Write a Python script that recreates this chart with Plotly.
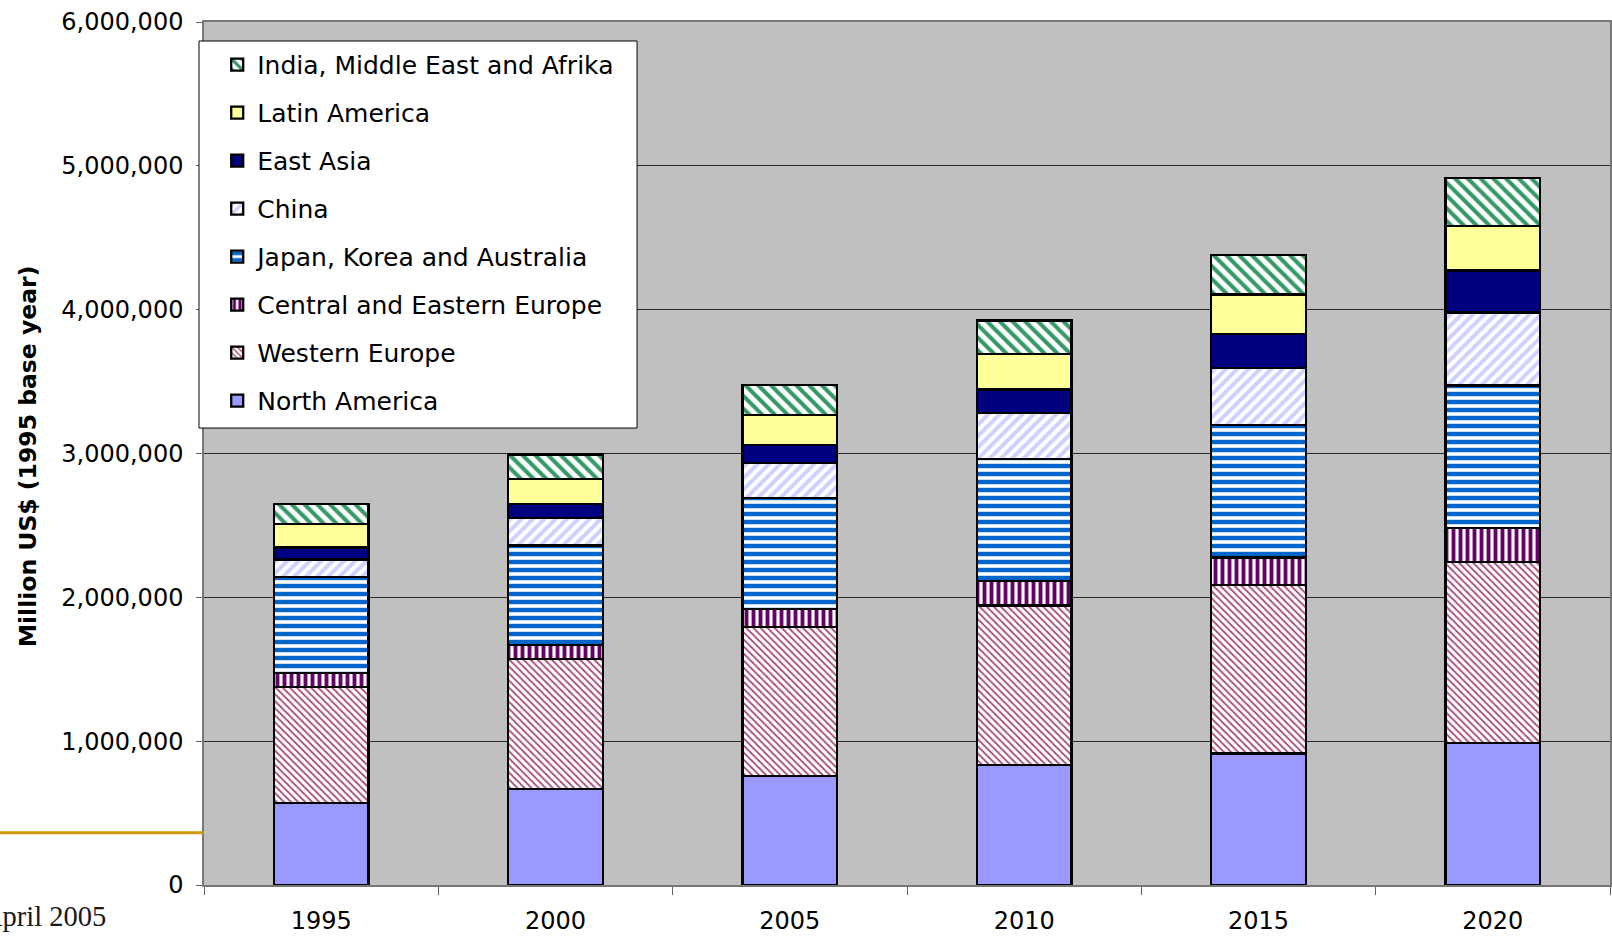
import plotly.graph_objects as go

years = ["1995", "2000", "2005", "2010", "2015", "2020"]

north_america = [572000, 669000, 756000, 832000, 915000, 989000]
western_europe = [806000, 904000, 1039000, 1112000, 1170000, 1258000]
central_eastern_europe = [97000, 95000, 125000, 171000, 192000, 234000]
japan_korea_australia = [665000, 693000, 771000, 848000, 920000, 992000]
china = [123000, 189000, 244000, 317000, 398000, 507000]
east_asia = [84000, 98000, 125000, 165000, 234000, 292000]
latin_america = [165000, 175000, 206000, 245000, 276000, 312000]
india_me_afrika = [139000, 170000, 209000, 234000, 273000, 331000]

series = [
    ("North America", north_america, dict(color="#9999FF")),
    ("Western Europe", western_europe,
     dict(color="white", pattern=dict(shape="\\", fgcolor="#A84A78", fgopacity=1, bgcolor="white", size=5, solidity=0.35))),
    ("Central and Eastern Europe", central_eastern_europe,
     dict(color="white", pattern=dict(shape="|", fgcolor="#660066", fgopacity=1, bgcolor="white", size=7, solidity=0.55))),
    ("Japan, Korea and Australia", japan_korea_australia,
     dict(color="white", pattern=dict(shape="-", fgcolor="#0066CC", fgopacity=1, bgcolor="white", size=8, solidity=0.55))),
    ("China", china,
     dict(color="white", pattern=dict(shape="/", fgcolor="#D0D0FF", fgopacity=1, bgcolor="white", size=8, solidity=0.5))),
    ("East Asia", east_asia, dict(color="#000080")),
    ("Latin America", latin_america, dict(color="#FFFF99")),
    ("India, Middle East and Afrika", india_me_afrika,
     dict(color="white", pattern=dict(shape="\\", fgcolor="#339966", fgopacity=1, bgcolor="white", size=9, solidity=0.45))),
]

fig = go.Figure()
n = len(series)
for i, (name, vals, mk) in enumerate(series):
    marker = dict(mk)
    marker["line"] = dict(color="black", width=2.3)
    fig.add_trace(go.Bar(x=years, y=vals, name=name, marker=marker,
                         legendgroup=f"g{i}", legendrank=n - i))

# plot area: x 204..1610 px, y 22..885 px
fig.update_layout(
    width=1612, height=936,
    barmode="stack", bargap=0.595,
    paper_bgcolor="white", plot_bgcolor="#C0C0C0",
    margin=dict(l=204, r=2, t=22, b=51, autoexpand=False),
    font=dict(family="DejaVu Sans", size=24, color="black"),
    showlegend=True,
    legend=dict(
        x=0.0094, y=0.977, xanchor="left", yanchor="top",
        bgcolor="rgba(0,0,0,0)", borderwidth=0,
        traceorder="grouped", tracegroupgap=12.5, itemwidth=30,
        font=dict(family="DejaVu Sans", size=25, color="black"),
    ),
    xaxis=dict(
        type="category", showgrid=False,
        ticks="outside", tickson="boundaries", ticklen=8, tickcolor="#666",
        showline=True, linecolor="#777", linewidth=1.5, mirror=True,
        ticklabelstandoff=13, tickfont=dict(size=24),
    ),
    yaxis=dict(
        range=[0, 6000000], dtick=1000000, tickformat=",",
        showgrid=True, gridcolor="#2a2a2a", gridwidth=1,
        ticks="outside", ticklen=6, tickcolor="#666",
        showline=True, linecolor="#777", linewidth=1.5, mirror=True,
        ticklabelstandoff=8, tickfont=dict(size=24), zeroline=False,
    ),
    annotations=[
        dict(text="<b>Million US$ (1995 base year)</b>", textangle=-90,
             xref="paper", yref="paper", x=-0.125, y=0.497,
             xanchor="center", yanchor="middle", showarrow=False,
             font=dict(family="DejaVu Sans", size=23.5, color="black")),
        dict(text="April 2005", xref="paper", yref="paper",
             x=-0.1593, y=-0.0367, xanchor="left", yanchor="middle",
             showarrow=False,
             font=dict(family="Liberation Serif", size=28.5, color="#1a1a1a")),
    ],
    shapes=[
        dict(type="line", xref="paper", yref="paper", x0=-0.2, x1=0,
             y0=0.0606, y1=0.0606, line=dict(color="#CC9900", width=3)),
        dict(type="rect", xref="paper", yref="paper", layer="above",
             x0=-0.00356, x1=0.308, y0=0.5295, y1=0.978,
             fillcolor="white", line=dict(color="black", width=1)),
    ],
)

fig.write_html("out.html", config={"displayModeBar": False},
               post_script="document.body.style.margin='0';")
